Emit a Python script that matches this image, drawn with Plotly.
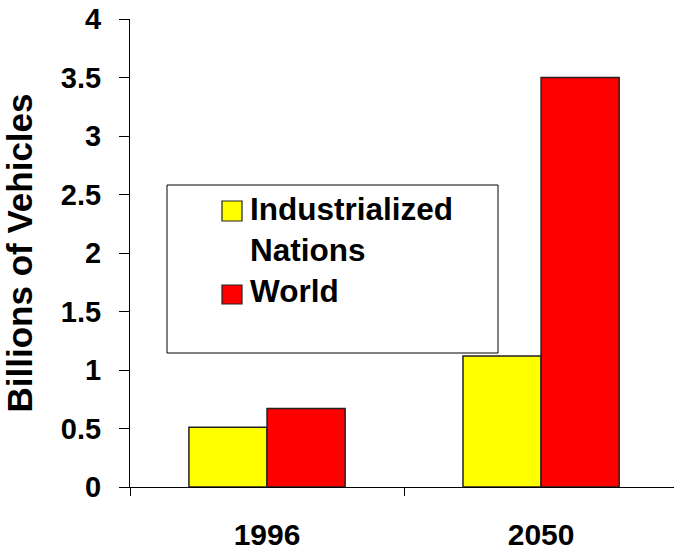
import plotly.graph_objects as go

# Vehicle fleet estimates (billions of vehicles)
years = ["1996", "2050"]
series_names = ["Industrialized Nations", "World"]
industrialized = [0.51, 1.12]
world = [0.67, 3.5]
y_tick_values = [0, 0.5, 1, 1.5, 2, 2.5, 3, 3.5, 4]
y_tick_labels = ["0", "0.5", "1", "1.5", "2", "2.5", "3", "3.5", "4"]

colors = ["#FFFF00", "#FF0000"]
FONT = "Arial, 'Liberation Sans', sans-serif"

W, H = 674, 555
ML, MR, MT, MB = 130, 0, 19, 68
PW, PH = W - ML - MR, H - MT - MB


def px(x):
    return (x - ML) / PW


def py(y):
    return (H - MB - y) / PH


fig = go.Figure()
for name, vals, col in zip(series_names, [industrialized, world], colors):
    fig.add_trace(go.Bar(
        x=years, y=vals, name=name,
        marker=dict(color=col, line=dict(color="#222222", width=1.5)),
        showlegend=False,
    ))

# Boxed key drawn in paper space
shapes = [dict(type="rect", xref="paper", yref="paper",
               x0=px(167), x1=px(498), y0=py(353), y1=py(185),
               line=dict(color="black", width=1), fillcolor="white", layer="above")]
annotations = []
swatch_rows = [(201, 221, 230), (285, 304, 291)]
labels = ["Industrialized<br>Nations", series_names[1]]
for (top, bot, mid), col, lab in zip(swatch_rows, colors, labels):
    shapes.append(dict(type="rect", xref="paper", yref="paper",
                       x0=px(222), x1=px(242), y0=py(bot), y1=py(top),
                       line=dict(color="#222222", width=1.2), fillcolor=col,
                       layer="above"))
    annotations.append(dict(xref="paper", yref="paper", x=px(248), y=py(mid),
                            xanchor="left", yanchor="middle", align="left",
                            text=lab, showarrow=False,
                            font=dict(family=FONT, size=31.5, color="black",
                                      weight="bold")))

fig.update_layout(
    width=W, height=H,
    margin=dict(l=ML, r=MR, t=MT, b=MB, pad=0),
    paper_bgcolor="white", plot_bgcolor="white",
    barmode="group", bargap=0.43, bargroupgap=0,
    shapes=shapes, annotations=annotations,
    font=dict(family=FONT, color="black"),
)
fig.update_xaxes(
    type="category", range=[-0.5, 1.485], automargin=False,
    showline=True, linecolor="black", linewidth=1,
    ticks="outside", tickson="boundaries", ticklen=8, tickcolor="black",
    tickfont=dict(family=FONT, size=30, color="black", weight="bold"),
    ticklabelstandoff=21, showgrid=False, zeroline=False,
)
fig.update_yaxes(
    range=[0, 4], tickmode="array", tickvals=y_tick_values, ticktext=y_tick_labels,
    automargin=False,
    showline=True, linecolor="black", linewidth=1,
    ticks="outside", ticklen=10, tickcolor="black",
    tickfont=dict(family=FONT, size=29, color="black", weight="bold"),
    ticklabelstandoff=12, showgrid=False, zeroline=False,
    title=dict(text="Billions of Vehicles", standoff=36,
               font=dict(family=FONT, size=35, color="black", weight="bold")),
)

fig.write_html("out.html")
